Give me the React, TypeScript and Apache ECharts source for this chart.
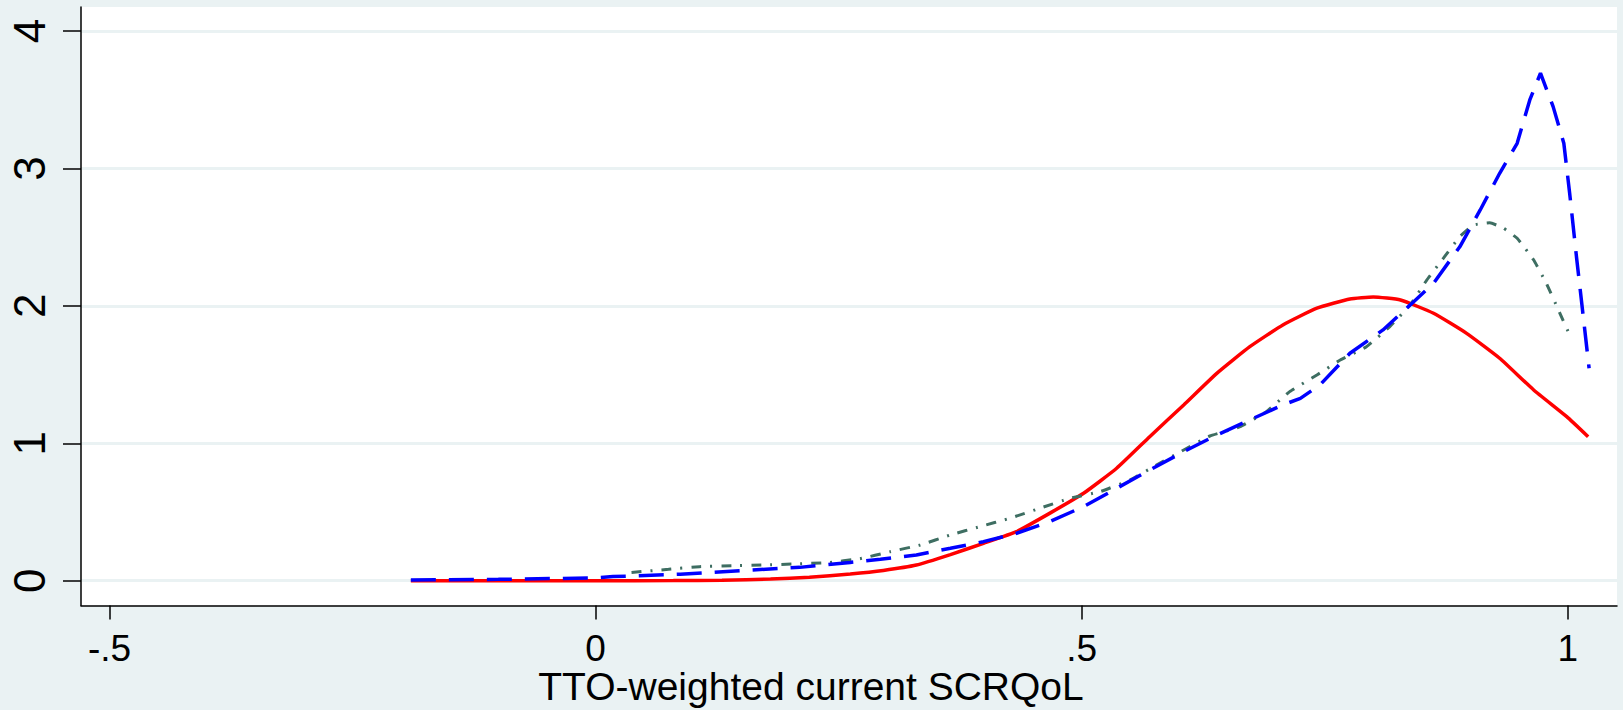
import React, { useEffect, useRef } from "react";
import * as echarts from "echarts";

// ---- data ----
const redX = [-0.19, -0.1, 0, 0.08, 0.13, 0.18, 0.22, 0.262, 0.296, 0.33, 0.365, 0.399, 0.433, 0.467, 0.502, 0.536, 0.57, 0.605, 0.639, 0.673, 0.707, 0.742, 0.776, 0.8, 0.828, 0.862, 0.896, 0.93, 0.965, 0.999, 1.021];
const redY = [0, 0, 0, 0.001, 0.003, 0.012, 0.025, 0.049, 0.075, 0.114, 0.19, 0.272, 0.357, 0.49, 0.636, 0.818, 1.048, 1.279, 1.509, 1.703, 1.861, 1.983, 2.05, 2.065, 2.043, 1.946, 1.8, 1.619, 1.388, 1.194, 1.048];

const blueX = [-0.19, -0.1, 0, 0.018, 0.087, 0.148, 0.21, 0.262, 0.293, 0.33, 0.365, 0.399, 0.433, 0.467, 0.502, 0.536, 0.57, 0.605, 0.639, 0.673, 0.707, 0.725, 0.745, 0.776, 0.81, 0.838, 0.862, 0.889, 0.91, 0.93, 0.948, 0.961, 0.972, 0.985, 0.996, 1.002, 1.009, 1.016, 1.022];
const blueY = [0.005, 0.01, 0.02, 0.03, 0.047, 0.073, 0.097, 0.133, 0.156, 0.187, 0.236, 0.284, 0.345, 0.43, 0.539, 0.672, 0.806, 0.939, 1.06, 1.17, 1.279, 1.327, 1.424, 1.655, 1.825, 2.007, 2.165, 2.43, 2.698, 2.965, 3.183, 3.499, 3.693, 3.45, 3.183, 2.82, 2.358, 1.921, 1.546];

const greenX = [0.037, 0.075, 0.107, 0.14, 0.173, 0.205, 0.238, 0.272, 0.303, 0.334, 0.365, 0.395, 0.426, 0.457, 0.488, 0.519, 0.55, 0.577, 0.605, 0.632, 0.663, 0.69, 0.714, 0.742, 0.766, 0.793, 0.817, 0.838, 0.855, 0.872, 0.889, 0.903, 0.92, 0.934, 0.948, 0.965, 0.978, 0.992, 1.002];
const greenY = [0.06, 0.083, 0.102, 0.109, 0.114, 0.122, 0.131, 0.16, 0.211, 0.26, 0.333, 0.393, 0.454, 0.527, 0.6, 0.648, 0.733, 0.842, 0.951, 1.053, 1.121, 1.23, 1.376, 1.497, 1.606, 1.703, 1.849, 2.007, 2.188, 2.346, 2.504, 2.589, 2.605, 2.565, 2.492, 2.334, 2.165, 1.946, 1.788];

const xTickValues = [-0.5, 0, 0.5, 1];
const xTickLabels = ["-.5", "0", ".5", "1"];
const yTickValues = [0, 1, 2, 3, 4];
const yTickLabels = ["0", "1", "2", "3", "4"];
const xTitle = "TTO-weighted current SCRQoL";

const zip = (xs: number[], ys: number[]) => xs.map((x, i) => [x, ys[i]]);

const BG = "#EAF2F3";
const FONT = "'Liberation Sans', Arial, Helvetica, sans-serif";

export default function App() {
  const ref = useRef<HTMLDivElement>(null);
  useEffect(() => {
    document.body.style.margin = "0";
    const chart = echarts.init(ref.current!, undefined, { renderer: "svg" });
    chart.setOption({
      animation: false,
      backgroundColor: BG,
      grid: {
        left: 81,
        right: 6,
        top: 7,
        bottom: 104.5,
        show: true,
        backgroundColor: "#ffffff",
        borderWidth: 0,
      },
      xAxis: {
        type: "value",
        min: -0.5293,
        max: 1.0507,
        axisLine: { show: true, onZero: false, lineStyle: { color: "#000", width: 1.5 } },
        axisTick: { show: true, customValues: xTickValues, length: 14, lineStyle: { color: "#000", width: 1.5 } },
        axisLabel: {
          customValues: xTickValues,
          formatter: (v: number) => {
            const i = xTickValues.findIndex((t) => Math.abs(t - v) < 1e-9);
            return i >= 0 ? xTickLabels[i] : "";
          },
          color: "#000",
          fontFamily: FONT,
          fontSize: 37,
          margin: 24,
        },
        splitLine: { show: false },
      },
      yAxis: {
        type: "value",
        min: -0.1805,
        max: 4.175,
        axisLine: { show: true, onZero: false, lineStyle: { color: "#000", width: 1.5 } },
        axisTick: { show: true, customValues: yTickValues, length: 18, lineStyle: { color: "#000", width: 1.5 } },
        axisLabel: {
          customValues: yTickValues,
          formatter: (v: number) => {
            const i = yTickValues.findIndex((t) => Math.abs(t - v) < 1e-9);
            return i >= 0 ? yTickLabels[i] : "";
          },
          rotate: 90,
          color: "#000",
          fontFamily: FONT,
          fontSize: 44,
          margin: 30,
        },
        splitLine: { show: true, lineStyle: { color: BG, width: 3 } },
      },
      graphic: [
        {
          type: "text",
          x: 811,
          y: 686,
          style: {
            text: xTitle,
            fill: "#000",
            font: `39px ${FONT}`,
            align: "center",
            verticalAlign: "middle",
          },
        },
      ],
      series: [
        {
          name: "green",
          type: "line",
          data: zip(greenX, greenY),
          showSymbol: false,
          smooth: 0.1,
          lineStyle: { color: "#3e6e62", width: 3, type: [10, 9, 2, 9] },
          z: 3,
        },
        {
          name: "blue",
          type: "line",
          data: zip(blueX, blueY),
          showSymbol: false,
          lineStyle: { color: "#0000ff", width: 3.5, type: [25, 13] },
          z: 4,
        },
        {
          name: "red",
          type: "line",
          data: zip(redX, redY),
          showSymbol: false,
          smooth: 0.15,
          lineStyle: { color: "#ff0000", width: 3.5, type: "solid" },
          z: 2,
        },
      ],
    });
    return () => chart.dispose();
  }, []);
  return <div ref={ref} style={{ position: "absolute", left: 0, top: 0, width: 1623, height: 710 }} />;
}
